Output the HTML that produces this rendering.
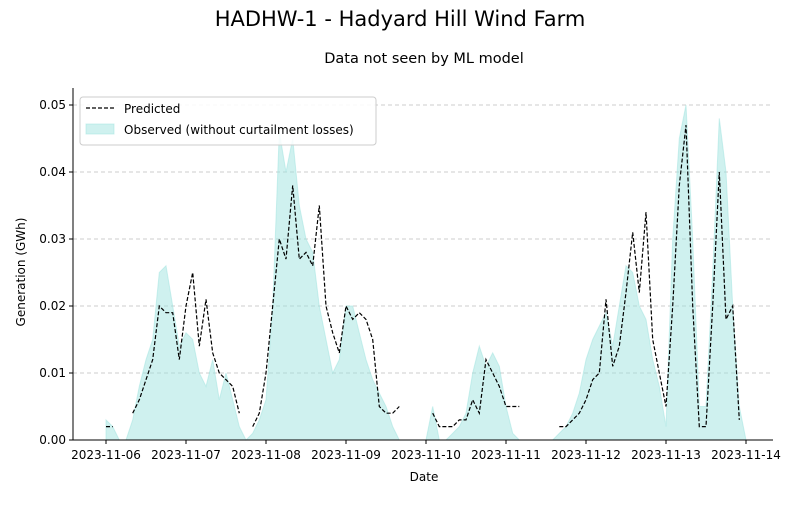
<!DOCTYPE html>
<html><head><meta charset="utf-8"><style>
body{margin:0;background:#fff}
svg text{font-family:"DejaVu Sans","Liberation Sans",sans-serif}
</style></head><body>
<svg id="c" width="800" height="500">
<text x="400" y="26" text-anchor="middle" font-size="21" fill="#000">HADHW-1 - Hadyard Hill Wind Farm</text>
<text x="424" y="63" text-anchor="middle" font-size="14.5" fill="#000">Data not seen by ML model</text>
<g id="grid"></g><g id="obs"></g><g id="pred"></g><g id="axes"></g>
<text x="424" y="481" text-anchor="middle" font-size="12">Date</text>
<text x="25" y="272" text-anchor="middle" font-size="12" transform="rotate(-90 25 272)">Generation (GWh)</text>
<g>
<rect x="80" y="97" width="296" height="48" rx="3" fill="#fff" fill-opacity="0.85" stroke="#ccc"/>
<line x1="86" y1="108" x2="114" y2="108" stroke="#000" stroke-width="1.2" stroke-dasharray="4,2"/>
<text x="124" y="113" font-size="12">Predicted</text>
<rect x="86" y="124" width="28" height="10" fill="#9fe3df" fill-opacity="0.5" stroke="#9fe3df" stroke-opacity="0.5"/>
<text x="124" y="134" font-size="12">Observed (without curtailment losses)</text>
</g>
</svg>
<script>
const xTickLabels=["2023-11-06","2023-11-07","2023-11-08","2023-11-09","2023-11-10","2023-11-11","2023-11-12","2023-11-13","2023-11-14"];
const yTicks=[0,0.01,0.02,0.03,0.04,0.05];
const stepHours=2;
const observed=[0.003,
0.002,0,0,0.003,0.008,0.012,0.015,0.025,0.026,0.02,0.014,0.016,
0.015,0.01,0.008,0.012,0.006,0.01,0.006,0.002,0,0.001,0.003,0.006,
0.02,0.046,0.04,0.045,0.035,0.03,0.028,0.02,0.015,0.01,0.012,0.02,
0.02,0.016,0.012,0.009,0.007,0.005,0.002,0,0,0,0,0,
0.005,0,0,0.001,0.002,0.004,0.01,0.014,0.011,0.013,0.011,0.005,
0.001,0,0,0,0,0,0,0.001,0.002,0.004,0.007,0.012,
0.015,0.017,0.019,0.014,0.02,0.026,0.025,0.02,0.018,0.012,0.008,0.002,
0.03,0.045,0.05,0.03,0.005,0.005,0.025,0.048,0.04,0.02,0.005,0];
const predicted=[0.002,
0.002,null,null,0.004,0.006,0.009,0.012,0.02,0.019,0.019,0.012,0.02,
0.025,0.014,0.021,0.013,0.01,0.009,0.008,0.004,null,0.002,0.004,0.01,
0.02,0.03,0.027,0.038,0.027,0.028,0.026,0.035,0.02,0.016,0.013,0.02,
0.018,0.019,0.018,0.015,0.005,0.004,0.004,0.005,null,null,null,null,
0.004,0.002,0.002,0.002,0.003,0.003,0.006,0.004,0.012,0.01,0.008,0.005,
0.005,0.005,null,null,null,null,null,0.002,0.002,0.003,0.004,0.006,
0.009,0.01,0.021,0.011,0.014,0.022,0.031,0.022,0.034,0.015,0.01,0.005,
0.02,0.038,0.047,0.02,0.002,0.002,0.02,0.04,0.018,0.02,0.003,null];
const X0=73,X1=773,Y0=440;
const xh=h=>106+h*80/24;
const ys=v=>Y0-v*6700;
const NS="http://www.w3.org/2000/svg";
function mk(t,a,p){const e=document.createElementNS(NS,t);for(const k in a)e.setAttribute(k,a[k]);p.appendChild(e);return e;}
const grid=document.getElementById('grid'),axes=document.getElementById('axes');
yTicks.forEach((v,i)=>{
 if(v>0){const g=mk('line',{x1:X0,x2:X1,y1:ys(v),y2:ys(v),stroke:'#ccc','stroke-dasharray':'4,3'},grid);
 
 }
 const t=mk('line',{x1:X0-4,x2:X0,y1:ys(v),y2:ys(v),stroke:'#000'},axes);
 
 
 const l=mk('text',{x:X0-7,y:ys(v)+4,'text-anchor':'end','font-size':12},axes);l.textContent=v.toFixed(2);
 
 
});
xTickLabels.forEach((s,i)=>{
 const x=xh(i*24);
 const t=mk('line',{x1:x,x2:x,y1:Y0,y2:Y0+4,stroke:'#000'},axes);
 
 
 const l=mk('text',{x:x,y:Y0+19,'text-anchor':'middle','font-size':12},axes);l.textContent=s;
 
 
});
const ax1=mk('line',{x1:X0,x2:X0,y1:88,y2:Y0,stroke:'#000'},axes);


const ax2=mk('line',{x1:X0,x2:X1,y1:Y0,y2:Y0,stroke:'#000'},axes);


let d='M'+xh(0)+','+Y0;
observed.forEach((v,i)=>{d+=' L'+xh(i*stepHours).toFixed(1)+','+ys(v).toFixed(1);});
d+=' L'+xh((observed.length-1)*stepHours)+','+Y0+' Z';
const area=mk('path',{d:d,fill:'#9fe3df','fill-opacity':0.5,stroke:'#9fe3df','stroke-opacity':0.5},document.getElementById('obs'));


let pd='',pen=false;
predicted.forEach((v,i)=>{
 if(v===null){pen=false;return;}
 pd+=(pen?' L':' M')+xh(i*stepHours).toFixed(1)+','+ys(v).toFixed(1);pen=true;
});
const pl=mk('path',{d:pd,fill:'none',stroke:'#000','stroke-width':1.2,'stroke-dasharray':'4,2'},document.getElementById('pred'));


</script>
</body></html>
